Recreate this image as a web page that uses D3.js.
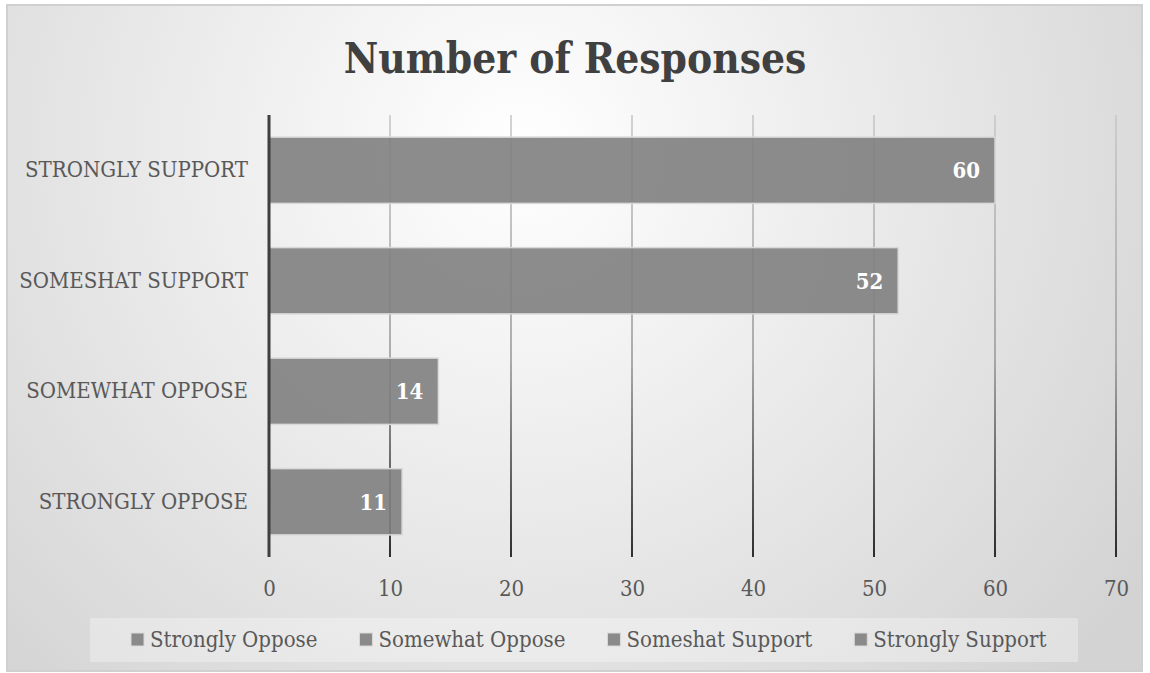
<!DOCTYPE html>
<html>
<head>
<meta charset="utf-8">
<script src="https://cdn.jsdelivr.net/npm/d3@7"></script>
<style>
  html, body { margin: 0; padding: 0; background: #fff; }
  svg { display: block; font-family: "DejaVu Serif Condensed", "DejaVu Serif", serif; font-stretch: condensed; }
</style>
</head>
<body>
<div class="container"></div>
<script>
const categories = ['STRONGLY SUPPORT', 'SOMESHAT SUPPORT', 'SOMEWHAT OPPOSE', 'STRONGLY OPPOSE'];
const values = [60, 52, 14, 11];
const legendLabels = ['Strongly Oppose', 'Somewhat Oppose', 'Someshat Support', 'Strongly Support'];
const tickValues = [0, 10, 20, 30, 40, 50, 60, 70];

const width = 1150;
const height = 673;
const plot = { left: 269, right: 1116, top: 115, bottom: 557 };
const serif = '"DejaVu Serif Condensed", "DejaVu Serif", serif';

const svg = d3.select('.container')
  .append('svg')
  .attr('width', width)
  .attr('height', height);

const defs = svg.append('defs');

// chart background, white near the title fading to grey at the corners
const bg = defs.append('radialGradient')
  .attr('id', 'bg')
  .attr('gradientUnits', 'userSpaceOnUse')
  .attr('cx', 520).attr('cy', 150).attr('r', 760);
bg.append('stop').attr('offset', '0%').attr('stop-color', '#ffffff');
bg.append('stop').attr('offset', '100%').attr('stop-color', '#d3d3d3');

// gridlines go from light grey at the top to black at the bottom
const gridGrad = defs.append('linearGradient')
  .attr('id', 'grid')
  .attr('gradientUnits', 'userSpaceOnUse')
  .attr('x1', 0).attr('y1', plot.top).attr('x2', 0).attr('y2', plot.bottom);
gridGrad.append('stop').attr('offset', '0%').attr('stop-color', '#c8c8c8');
gridGrad.append('stop').attr('offset', '55%').attr('stop-color', '#9a9a9a');
gridGrad.append('stop').attr('offset', '100%').attr('stop-color', '#000000');

svg.append('rect')
  .attr('x', 7).attr('y', 5)
  .attr('width', 1135).attr('height', 666)
  .attr('fill', 'url(#bg)')
  .attr('stroke', '#d0d0d0')
  .attr('stroke-width', 2);

const xScale = d3.scaleLinear()
  .domain([0, 70])
  .range([plot.left, plot.right]);

const yScale = d3.scaleBand()
  .domain(categories)
  .range([plot.top, plot.bottom])
  .paddingInner(0.4)
  .paddingOuter(0.2);

// title
svg.append('text')
  .attr('x', 575)
  .attr('y', 73)
  .attr('text-anchor', 'middle')
  .attr('font-size', 42)
  .attr('font-weight', 'bold')
  .attr('fill', '#404040')
  .text('Number of Responses');

// vertical gridlines
svg.append('g')
  .selectAll('line')
  .data(tickValues.filter(d => d > 0))
  .enter()
  .append('line')
  .attr('x1', d => xScale(d))
  .attr('x2', d => xScale(d))
  .attr('y1', plot.top)
  .attr('y2', plot.bottom)
  .attr('stroke', 'url(#grid)')
  .attr('stroke-width', 1.6);

// bars
svg.append('g')
  .selectAll('rect')
  .data(values)
  .enter()
  .append('rect')
  .attr('x', xScale(0))
  .attr('y', (d, i) => yScale(categories[i]))
  .attr('width', d => xScale(d) - xScale(0))
  .attr('height', yScale.bandwidth())
  .attr('fill', '#7f7f7f')
  .attr('fill-opacity', 0.9)
  .attr('stroke', '#d9d9d9')
  .attr('stroke-width', 1.5);

// value labels, inside end
svg.append('g')
  .selectAll('text')
  .data(values)
  .enter()
  .append('text')
  .attr('x', d => xScale(d) - 15)
  .attr('y', (d, i) => yScale(categories[i]) + yScale.bandwidth() / 2 + 8)
  .attr('text-anchor', 'end')
  .attr('font-size', 22)
  .attr('font-weight', 'bold')
  .attr('fill', '#ffffff')
  .text(d => d);

// x axis labels
const xAxis = d3.axisBottom(xScale).tickValues(tickValues).tickSize(0).tickPadding(0);
const gx = svg.append('g')
  .attr('transform', `translate(0, 596)`)
  .call(xAxis)
  .attr('font-family', serif)
  .attr('font-size', 22);
gx.select('.domain').remove();
gx.selectAll('text')
  .attr('dy', 0)
  .attr('fill', '#595959');

// y axis: categories and the dark axis line
const yAxis = d3.axisLeft(yScale).tickSize(0).tickPadding(21);
const gy = svg.append('g')
  .attr('transform', `translate(${plot.left}, 0)`)
  .call(yAxis)
  .attr('font-family', serif)
  .attr('font-size', 22);
gy.select('.domain').remove();
gy.selectAll('text')
  .attr('dy', 7)
  .attr('fill', '#595959');

svg.append('line')
  .attr('x1', plot.left).attr('x2', plot.left)
  .attr('y1', plot.top).attr('y2', plot.bottom)
  .attr('stroke', '#3f3f3f')
  .attr('stroke-width', 3);

// legend
svg.append('rect')
  .attr('x', 90).attr('y', 618)
  .attr('width', 988).attr('height', 44)
  .attr('fill', '#ffffff')
  .attr('fill-opacity', 0.3);

const legend = svg.append('g');
const items = legend.selectAll('g')
  .data(legendLabels)
  .enter()
  .append('g');
items.append('rect')
  .attr('y', 633)
  .attr('width', 13).attr('height', 13)
  .attr('fill', '#7f7f7f')
  .attr('fill-opacity', 0.9)
  .attr('stroke', '#d9d9d9')
  .attr('stroke-width', 1);
items.append('text')
  .attr('x', 19)
  .attr('y', 647)
  .attr('font-size', 22)
  .attr('fill', '#595959')
  .text(d => d);

let xPos = 131;
items.each(function () {
  const w = d3.select(this).select('text').node().getComputedTextLength();
  d3.select(this).attr('transform', `translate(${xPos}, 0)`);
  xPos += 19 + w + 42;
});
</script>
</body>
</html>
